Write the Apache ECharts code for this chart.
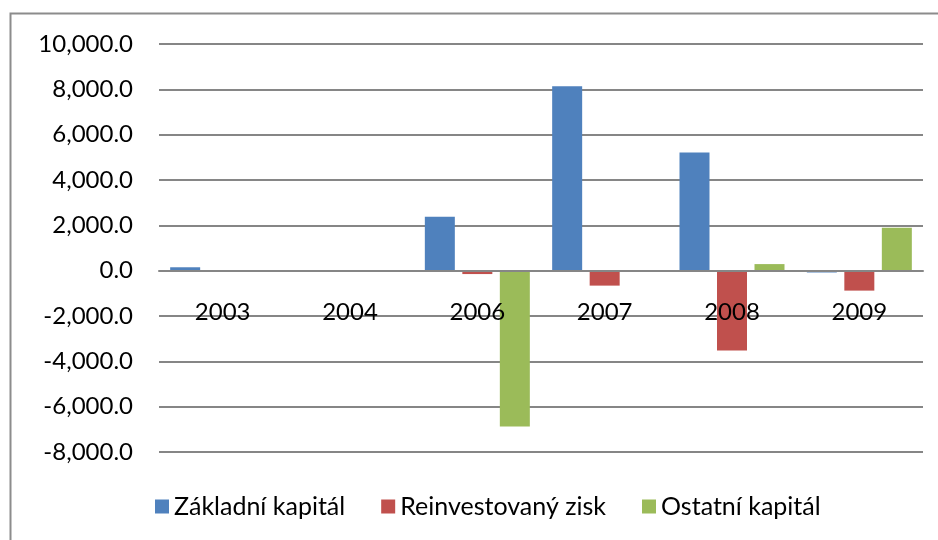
<!DOCTYPE html>
<html>
<head>
<meta charset="utf-8">
<script src="https://cdn.jsdelivr.net/npm/echarts@6/dist/echarts.min.js"></script>
<style>
  html, body { margin: 0; padding: 0; background: #fff; }
  #chart { width: 938px; height: 540px; }
</style>
</head>
<body>
<div id="chart"></div>
<script>
const years = ["2003", "2004", "2006", "2007", "2008", "2009"];
const zakladniKapital = [150, 0, 2380, 8140, 5210, -80];
const reinvestovanyZisk = [0, 0, -150, -660, -3520, -880];
const ostatniKapital = [0, 0, -6880, 0, 290, 1890];

const font = "Lato, 'Open Sans', sans-serif";

const myChart = echarts.init(document.getElementById("chart"));
myChart.setOption({
  backgroundColor: "#fff",
  animation: false,
  graphic: [
    {
      type: "rect",
      shape: { x: 10.5, y: 13.5, width: 940, height: 540 },
      style: { fill: "none", stroke: "#8c8c8c", lineWidth: 2 },
      silent: true,
    },
  ],
  grid: { left: 159, right: 15, top: 44, bottom: 88 },
  legend: {
    top: 489,
    left: 150,
    itemWidth: 14,
    itemHeight: 14,
    itemGap: 36,
    icon: "rect",
    textStyle: { fontFamily: font, fontSize: 25, color: "#000" },
  },
  xAxis: {
    type: "category",
    data: years,
    position: "bottom",
    // the category axis sits on the zero line, like the original
    offset: -181,
    z: 5,
    axisLine: { show: true, onZero: false, lineStyle: { color: "#868686", width: 2 } },
    axisTick: { show: false },
    axisLabel: { fontFamily: font, fontSize: 24, color: "#000", margin: 29 },
  },
  yAxis: {
    type: "value",
    min: -8000,
    max: 10000,
    interval: 2000,
    axisLine: { show: false },
    axisTick: { show: false },
    axisLabel: {
      fontFamily: font,
      fontSize: 24,
      color: "#000",
      margin: 26,
      formatter: (v) =>
        v.toLocaleString("en-US", { minimumFractionDigits: 1, maximumFractionDigits: 1 }),
    },
    splitLine: { lineStyle: { color: "#868686", width: 2 } },
  },
  series: [
    {
      name: "Základní kapitál",
      type: "bar",
      data: zakladniKapital,
      itemStyle: { color: "#4f81bd" },
      barWidth: 30,
      barGap: "25%",
    },
    {
      name: "Reinvestovaný zisk",
      type: "bar",
      data: reinvestovanyZisk,
      itemStyle: { color: "#c0504d" },
      barWidth: 30,
      barGap: "25%",
    },
    {
      name: "Ostatní kapitál",
      type: "bar",
      data: ostatniKapital,
      itemStyle: { color: "#9bbb59" },
      barWidth: 30,
      barGap: "25%",
    },
  ],
});
</script>
</body>
</html>
